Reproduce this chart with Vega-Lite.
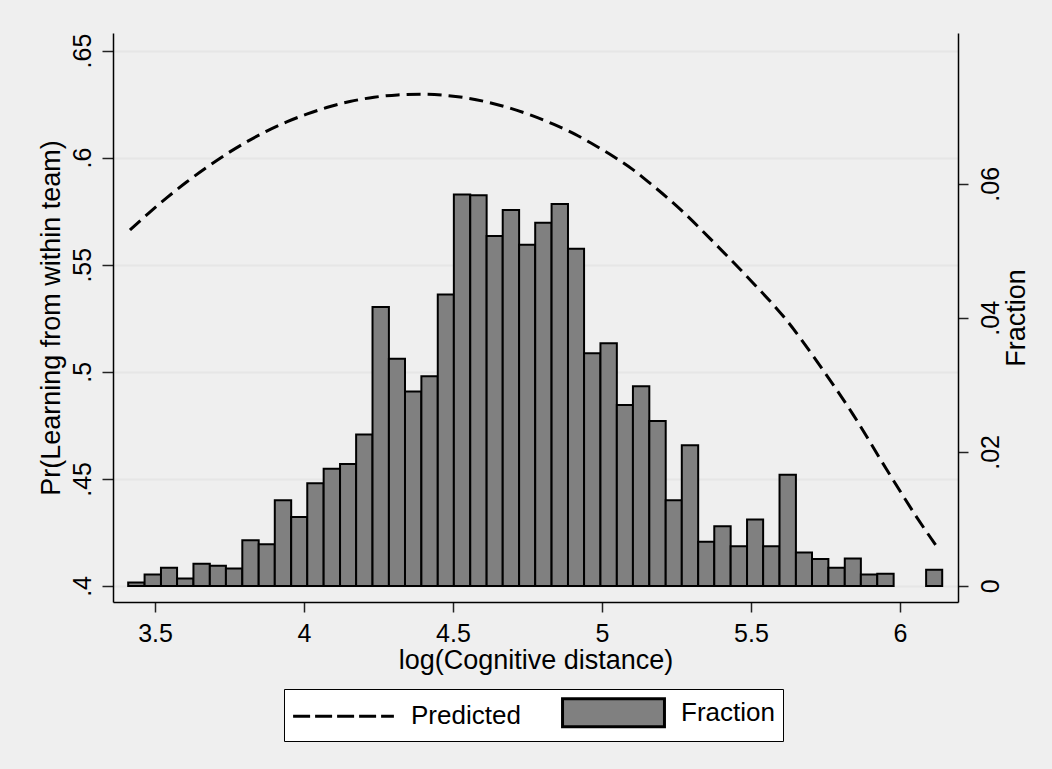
{
  "$schema": "https://vega.github.io/schema/vega-lite/v6.json",
  "width": 845,
  "height": 569,
  "autosize": {"type": "none"},
  "padding": {"left": 113, "top": 33, "right": 94, "bottom": 167},
  "background": "#efefef",
  "config": {
    "font": "Liberation Sans",
    "view": {"stroke": null, "fill": "white"},
    "axis": {
      "domainColor": "black", "domainWidth": 1.5,
      "tickColor": "#222222", "tickWidth": 1.5,
      "labelColor": "black", "titleColor": "black",
      "labelFont": "Liberation Sans", "titleFont": "Liberation Sans",
      "labelFontSize": 25, "titleFontSize": 27, "titleFontWeight": "normal",
      "labelFlush": false, "labelOverlap": false
    },
    "legend": {
      "orient": "none", "legendX": 171, "legendY": 656,
      "direction": "horizontal",
      "strokeColor": "black", "fillColor": "white", "padding": 8,
      "labelFont": "Liberation Sans", "labelFontSize": 26, "labelColor": "black",
      "symbolSize": 784, "symbolStrokeWidth": 3, "symbolStrokeColor": "black",
      "symbolOpacity": 1,
      "symbolOffset": 36, "labelOffset": 52, "columnPadding": 35
    }
  },
  "datasets": {
    "hist": [
      {"lo": 3.410, "hi": 3.465, "fraction": 0.0005},
      {"lo": 3.465, "hi": 3.520, "fraction": 0.0017},
      {"lo": 3.520, "hi": 3.574, "fraction": 0.0027},
      {"lo": 3.574, "hi": 3.629, "fraction": 0.0011},
      {"lo": 3.629, "hi": 3.684, "fraction": 0.0033},
      {"lo": 3.684, "hi": 3.738, "fraction": 0.0030},
      {"lo": 3.738, "hi": 3.793, "fraction": 0.0026},
      {"lo": 3.793, "hi": 3.848, "fraction": 0.0068},
      {"lo": 3.848, "hi": 3.902, "fraction": 0.0062},
      {"lo": 3.902, "hi": 3.957, "fraction": 0.0128},
      {"lo": 3.957, "hi": 4.011, "fraction": 0.0103},
      {"lo": 4.011, "hi": 4.066, "fraction": 0.0153},
      {"lo": 4.066, "hi": 4.121, "fraction": 0.0175},
      {"lo": 4.121, "hi": 4.175, "fraction": 0.0182},
      {"lo": 4.175, "hi": 4.230, "fraction": 0.0226},
      {"lo": 4.230, "hi": 4.285, "fraction": 0.0416},
      {"lo": 4.285, "hi": 4.339, "fraction": 0.0339},
      {"lo": 4.339, "hi": 4.394, "fraction": 0.0290},
      {"lo": 4.394, "hi": 4.449, "fraction": 0.0313},
      {"lo": 4.449, "hi": 4.503, "fraction": 0.0435},
      {"lo": 4.503, "hi": 4.558, "fraction": 0.0584},
      {"lo": 4.558, "hi": 4.613, "fraction": 0.0583},
      {"lo": 4.613, "hi": 4.667, "fraction": 0.0522},
      {"lo": 4.667, "hi": 4.722, "fraction": 0.0561},
      {"lo": 4.722, "hi": 4.776, "fraction": 0.0509},
      {"lo": 4.776, "hi": 4.831, "fraction": 0.0542},
      {"lo": 4.831, "hi": 4.886, "fraction": 0.0570},
      {"lo": 4.886, "hi": 4.940, "fraction": 0.0503},
      {"lo": 4.940, "hi": 4.995, "fraction": 0.0347},
      {"lo": 4.995, "hi": 5.050, "fraction": 0.0362},
      {"lo": 5.050, "hi": 5.104, "fraction": 0.0270},
      {"lo": 5.104, "hi": 5.159, "fraction": 0.0298},
      {"lo": 5.159, "hi": 5.214, "fraction": 0.0246},
      {"lo": 5.214, "hi": 5.268, "fraction": 0.0128},
      {"lo": 5.268, "hi": 5.323, "fraction": 0.0210},
      {"lo": 5.323, "hi": 5.377, "fraction": 0.0066},
      {"lo": 5.377, "hi": 5.432, "fraction": 0.0089},
      {"lo": 5.432, "hi": 5.487, "fraction": 0.0059},
      {"lo": 5.487, "hi": 5.541, "fraction": 0.0099},
      {"lo": 5.541, "hi": 5.596, "fraction": 0.0059},
      {"lo": 5.596, "hi": 5.651, "fraction": 0.0166},
      {"lo": 5.651, "hi": 5.705, "fraction": 0.0050},
      {"lo": 5.705, "hi": 5.760, "fraction": 0.0040},
      {"lo": 5.760, "hi": 5.815, "fraction": 0.0027},
      {"lo": 5.815, "hi": 5.869, "fraction": 0.0041},
      {"lo": 5.869, "hi": 5.924, "fraction": 0.0017},
      {"lo": 5.924, "hi": 5.979, "fraction": 0.0018},
      {"lo": 6.088, "hi": 6.142, "fraction": 0.0024}
    ],
    "pred": [
      {"x": 3.416, "p": 0.5662},
      {"x": 3.478, "p": 0.5740},
      {"x": 3.539, "p": 0.5812},
      {"x": 3.606, "p": 0.5886},
      {"x": 3.673, "p": 0.5954},
      {"x": 3.741, "p": 0.6018},
      {"x": 3.808, "p": 0.6074},
      {"x": 3.875, "p": 0.6124},
      {"x": 3.942, "p": 0.6167},
      {"x": 4.009, "p": 0.6203},
      {"x": 4.076, "p": 0.6234},
      {"x": 4.154, "p": 0.6262},
      {"x": 4.235, "p": 0.6282},
      {"x": 4.314, "p": 0.6293},
      {"x": 4.392, "p": 0.6296},
      {"x": 4.464, "p": 0.6292},
      {"x": 4.540, "p": 0.6280},
      {"x": 4.620, "p": 0.6258},
      {"x": 4.694, "p": 0.6230},
      {"x": 4.766, "p": 0.6196},
      {"x": 4.839, "p": 0.6155},
      {"x": 4.909, "p": 0.6110},
      {"x": 4.973, "p": 0.6060},
      {"x": 5.040, "p": 0.6004},
      {"x": 5.104, "p": 0.5944},
      {"x": 5.160, "p": 0.5882},
      {"x": 5.272, "p": 0.5747},
      {"x": 5.384, "p": 0.5592},
      {"x": 5.507, "p": 0.5415},
      {"x": 5.619, "p": 0.5242},
      {"x": 5.731, "p": 0.5030},
      {"x": 5.843, "p": 0.4800},
      {"x": 5.955, "p": 0.4545},
      {"x": 6.055, "p": 0.4324},
      {"x": 6.133, "p": 0.4165}
    ],
    "series": [
      {"series": "Predicted"},
      {"series": "Fraction"}
    ]
  },
  "layer": [
    {
      "data": {"name": "hist"},
      "mark": {"type": "bar", "fill": "#808080", "stroke": "black", "strokeWidth": 2},
      "encoding": {
        "x": {
          "field": "lo", "type": "quantitative",
          "scale": {"domain": [3.359, 6.195], "nice": false, "zero": false},
          "axis": {
            "title": "log(Cognitive distance)",
            "values": [3.5, 4, 4.5, 5, 5.5, 6],
            "labelExpr": "toString(datum.value)",
            "tickSize": 10, "labelPadding": 29, "labelBaseline": "alphabetic",
            "grid": false,
            "titleX": 422.5, "titleY": 66, "titleAlign": "center", "titleBaseline": "alphabetic"
          }
        },
        "x2": {"field": "hi"},
        "y": {
          "field": "fraction", "type": "quantitative",
          "scale": {"domain": [-0.0024, 0.0825], "nice": false, "zero": false},
          "axis": {
            "orient": "right",
            "title": "Fraction",
            "values": [0, 0.02, 0.04, 0.06],
            "labelExpr": "datum.value == 0 ? '0' : substring(toString(datum.value), 1)",
            "labelAngle": 270, "labelAlign": "center", "labelBaseline": "alphabetic",
            "labelPadding": 30, "tickSize": 10, "grid": false,
            "titleAngle": 270, "titleX": 66, "titleY": 284.5,
            "titleAlign": "center", "titleBaseline": "alphabetic"
          }
        },
        "y2": {"datum": 0}
      }
    },
    {
      "data": {"name": "pred"},
      "mark": {"type": "line", "color": "black", "strokeDash": [14, 7], "strokeWidth": 3, "interpolate": "monotone"},
      "encoding": {
        "x": {"field": "x", "type": "quantitative"},
        "y": {
          "field": "p", "type": "quantitative",
          "scale": {"domain": [0.3925, 0.6582], "nice": false, "zero": false},
          "axis": {
            "orient": "left",
            "title": "Pr(Learning from within team)",
            "values": [0.4, 0.45, 0.5, 0.55, 0.6, 0.65],
            "labelExpr": "substring(toString(datum.value), 1)",
            "labelAngle": 270, "labelAlign": "center", "labelBaseline": "alphabetic",
            "labelPadding": 12, "tickSize": 11,
            "grid": true, "gridColor": "#e6e6e6", "gridWidth": 2,
            "titleAngle": 270, "titleX": -54, "titleY": 284.5,
            "titleAlign": "center", "titleBaseline": "alphabetic"
          }
        }
      }
    },
    {
      "data": {"name": "series"},
      "mark": {"type": "point", "opacity": 0, "filled": true, "strokeWidth": 3},
      "encoding": {
        "shape": {
          "field": "series", "type": "nominal",
          "scale": {"domain": ["Predicted", "Fraction"], "range": ["M-3.6,0H3.6", "M-3.64,-1H3.64V1H-3.64Z"]},
          "legend": {"title": null}
        },
        "fill": {
          "field": "series", "type": "nominal",
          "scale": {"domain": ["Predicted", "Fraction"], "range": ["transparent", "#808080"]},
          "legend": {"title": null}
        },
        "stroke": {
          "field": "series", "type": "nominal",
          "scale": {"domain": ["Predicted", "Fraction"], "range": ["#000000", "#000000"]},
          "legend": {"title": null}
        },
        "strokeDash": {
          "field": "series", "type": "nominal",
          "scale": {"domain": ["Predicted", "Fraction"], "range": [[17, 5], [1, 0]]},
          "legend": {"title": null}
        }
      }
    }
  ],
  "resolve": {"scale": {"y": "independent"}}
}
